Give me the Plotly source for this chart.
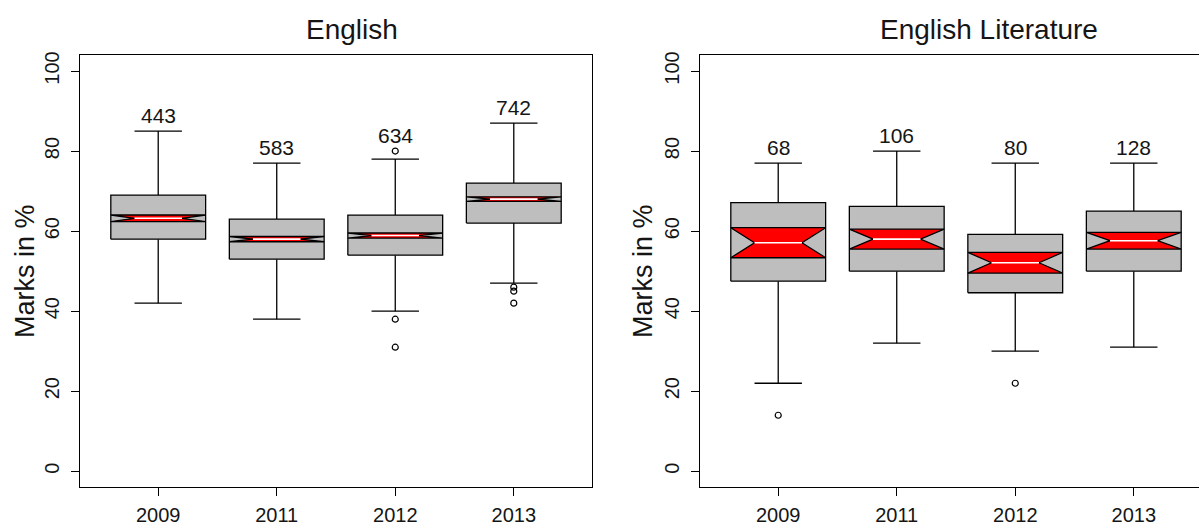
import numpy as np
import plotly.graph_objects as go

# ---- data -------------------------------------------------------------
years = ["2009", "2011", "2012", "2013"]

# English
eng_n = [443, 583, 634, 742]
eng_upper = [85, 77, 78, 87]
eng_q3 = [69, 63, 64, 72]
eng_median = [63.2, 58, 58.9, 68]
eng_q1 = [58, 53, 54, 62]
eng_lower = [42, 38, 40, 47]
eng_outliers = [[], [], [80, 38, 31], [46, 45, 42]]

# English Literature
lit_n = [68, 106, 80, 128]
lit_upper = [77, 80, 77, 77]
lit_q3 = [67.1, 66.2, 59.2, 65]
lit_median = [57.1, 58, 52.1, 57.6]
lit_q1 = [47.5, 50, 44.6, 50]
lit_lower = [22, 32, 30, 31]
lit_outliers = [[14], [], [22], []]

y_ticks = [0, 20, 40, 60, 80, 100]

# ---- style ------------------------------------------------------------
FONT = "Liberation Sans, Arial, sans-serif"
TXT = "#151515"
BOX_FILL = "#bebebe"
NOTCH_FILL = "#ff0000"
LW = 1.3
HALF = 0.4        # half box width
NOTCH_IN = 0.2    # half width at the notch waist
CAP = 0.2         # half width of whisker caps

W, H = 1199, 529
fig = go.Figure()


def add_panel(xa, ya, n, upper, q3, med, q1, lower, outliers):
    bx, by = [], []
    nx, ny = [], []
    mx, my = [], []
    wx, wy = [], []
    ox, oy = [], []
    for i in range(len(years)):
        x = i + 1
        # R-style notch half height
        notch = 1.58 * (q3[i] - q1[i]) / np.sqrt(n[i])
        bx += [x - HALF, x + HALF, x + HALF, x - HALF, x - HALF, None]
        by += [q1[i], q1[i], q3[i], q3[i], q1[i], None]
        nx += [x - HALF, x + HALF, x + NOTCH_IN, x + HALF, x - HALF, x - NOTCH_IN, x - HALF, None]
        ny += [med[i] + notch, med[i] + notch, med[i], med[i] - notch, med[i] - notch, med[i],
               med[i] + notch, None]
        mx += [x - NOTCH_IN, x + NOTCH_IN, None]
        my += [med[i], med[i], None]
        wx += [x, x, None, x, x, None, x - CAP, x + CAP, None, x - CAP, x + CAP, None]
        wy += [q3[i], upper[i], None, q1[i], lower[i], None,
               upper[i], upper[i], None, lower[i], lower[i], None]
        for o in outliers[i]:
            ox.append(x)
            oy.append(o)
        top = max([upper[i]] + outliers[i])
        fig.add_annotation(x=x, y=top + 3.9, xref=xa, yref=ya, text=str(n[i]),
                           showarrow=False, yanchor="middle",
                           font=dict(family=FONT, size=21, color=TXT))

    common = dict(xaxis=xa, yaxis=ya, showlegend=False, hoverinfo="skip")
    fig.add_trace(go.Scatter(x=wx, y=wy, mode="lines",
                             line=dict(color="black", width=LW), **common))
    fig.add_trace(go.Scatter(x=bx, y=by, mode="lines", fill="toself", fillcolor=BOX_FILL,
                             line=dict(color="black", width=LW), **common))
    fig.add_trace(go.Scatter(x=nx, y=ny, mode="lines", fill="toself", fillcolor=NOTCH_FILL,
                             line=dict(color="black", width=LW), **common))
    fig.add_trace(go.Scatter(x=mx, y=my, mode="lines",
                             line=dict(color="white", width=1.6), **common))
    fig.add_trace(go.Scatter(x=ox, y=oy, mode="markers",
                             marker=dict(symbol="circle-open", size=6, color="black",
                                         line=dict(width=1.2)), **common))


add_panel("x", "y", eng_n, eng_upper, eng_q3, eng_median, eng_q1, eng_lower, eng_outliers)
add_panel("x2", "y2", lit_n, lit_upper, lit_q3, lit_median, lit_q1, lit_lower, lit_outliers)

# ---- axes -------------------------------------------------------------
unit = 512 / 4.32  # pixels per category step
y_dom = [1 - 487.3 / H, 1 - 55 / H]

xcommon = dict(tickvals=[1, 2, 3, 4], ticktext=years, ticks="outside", ticklen=8,
               tickwidth=LW, tickcolor="black", showline=True, linecolor="black",
               linewidth=LW, mirror=True, showgrid=False, zeroline=False,
               ticklabelstandoff=2, automargin=False,
               tickfont=dict(family=FONT, size=20, color=TXT), fixedrange=True)
ycommon = dict(range=[-4, 104], tickvals=y_ticks, ticks="outside", ticklen=8,
               tickwidth=LW, tickcolor="black", showline=True, linecolor="black",
               linewidth=LW, showgrid=False, zeroline=False, tickangle=-90,
               ticklabelstandoff=4, automargin=False,
               tickfont=dict(family=FONT, size=20, color=TXT), domain=y_dom)

fig.update_layout(
    width=W, height=H,
    margin=dict(l=0, r=0, t=0, b=0, autoexpand=False),
    paper_bgcolor="white", plot_bgcolor="white",
    xaxis=dict(domain=[80 / W, 592 / W], range=[0.34, 4.66], anchor="y", **xcommon),
    yaxis=dict(anchor="x", mirror=True, **ycommon),
    xaxis2=dict(domain=[700 / W, 1.0], range=[0.34, 0.34 + (W - 700) / unit],
                anchor="y2", **xcommon),
    yaxis2=dict(anchor="x2", mirror=False, **ycommon),
)

# ---- titles -----------------------------------------------------------
for txt, xc in [("English", 352), ("English Literature", 989)]:
    fig.add_annotation(x=xc / W, y=1 - 30 / H, xref="paper", yref="paper", text=txt,
                       showarrow=False, xanchor="center", yanchor="middle",
                       font=dict(family=FONT, size=28, color=TXT))
for xc in [25, 643]:
    fig.add_annotation(x=xc / W, y=1 - 271 / H, xref="paper", yref="paper",
                       text="Marks in %", textangle=-90, showarrow=False,
                       xanchor="center", yanchor="middle",
                       font=dict(family=FONT, size=27, color=TXT))

fig.write_html("out.html")
